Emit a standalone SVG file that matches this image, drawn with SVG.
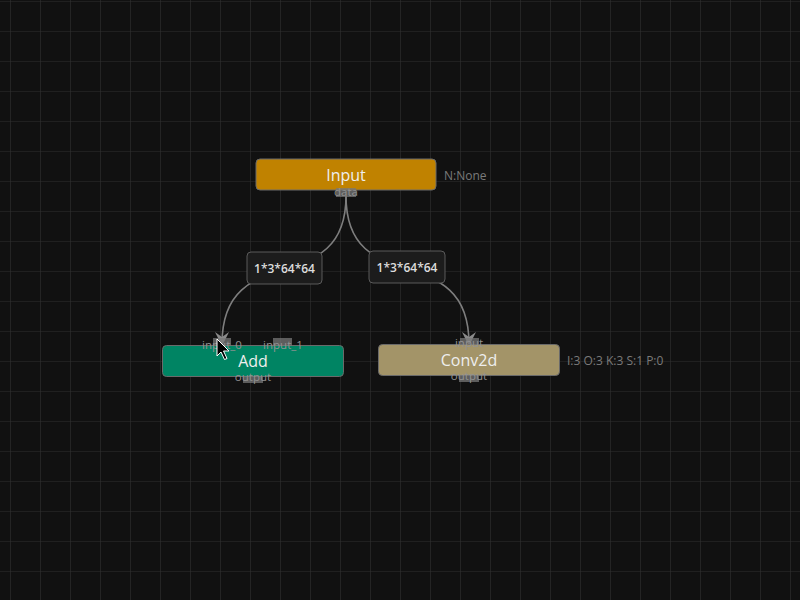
<svg xmlns="http://www.w3.org/2000/svg" width="800" height="600" viewBox="0 0 800 600">
<defs>
<pattern id="grid" x="10" y="1" width="30" height="30" patternUnits="userSpaceOnUse">
<path d="M0,0 H30 M0,0 V30" fill="none" stroke="#303030" stroke-width="1.2"/>
</pattern>
<marker id="arr" viewBox="0 0 14 14" refX="12" refY="7" markerWidth="14" markerHeight="14" markerUnits="userSpaceOnUse" orient="auto">
<path d="M0,0 L14,7 L0,14 L5,7 z" fill="#8a8a8a"/>
</marker>
<style>
.node{stroke:#6a6a6a;stroke-width:1}
.ntext{font-family:"Open Sans","Noto Sans",sans-serif;font-size:16px;fill:#eeeeee;text-anchor:middle}
.side{font-family:"Open Sans","Noto Sans",sans-serif;font-size:12px;fill:#7a7a7a}
.port{fill:#777;opacity:0.75}
.ptext{font-family:"Open Sans","Noto Sans",sans-serif;font-size:11.5px;fill:#929292;text-anchor:middle}
.edge{fill:none;stroke:#7e7e7e;stroke-width:1.6}
.lbox{fill:#1c1c1c;stroke:#5a5a5a;stroke-width:1}
.ltext{font-family:"Open Sans","Noto Sans",sans-serif;font-size:12px;font-weight:600;fill:#dddddd;text-anchor:middle}
</style>
</defs>
<rect width="800" height="600" fill="#111111"/>
<rect width="800" height="600" fill="url(#grid)"/>
<g id="connectors">
<path class="edge" d="M346,196 C346,302 222,236 222,344" marker-end="url(#arr)"/>
<path class="edge" d="M346,196 C346,302 469,236 469,344" marker-end="url(#arr)"/>
<rect class="lbox" x="247" y="252" width="75" height="32" rx="4"/>
<text class="ltext" x="284.5" y="272.5">1*3*64*64</text>
<rect class="lbox" x="369" y="251" width="76" height="32" rx="4"/>
<text class="ltext" x="407" y="271.5">1*3*64*64</text>
</g>
<g id="node-input">
<rect class="node" x="256" y="159" width="180" height="31" rx="4" fill="#c08200"/>
<text class="ntext" x="346" y="180.5">Input</text>
<text class="side" x="444" y="180">N:None</text>
<rect class="port" x="336" y="188" width="20" height="9"/>
<text class="ptext" x="346" y="195.5">data</text>
</g>
<g id="node-add">
<rect class="node" x="162.5" y="345.5" width="181" height="31" rx="4" fill="#008463"/>
<text class="ntext" x="253" y="367">Add</text>
<rect class="port" x="213" y="338" width="18" height="8"/>
<text class="ptext" x="222" y="349">input_0</text>
<rect class="port" x="273" y="338" width="19" height="8"/>
<text class="ptext" x="283" y="349">input_1</text>
<rect class="port" x="243" y="376" width="20" height="7"/>
<text class="ptext" x="253" y="381">output</text>
</g>
<g id="node-conv2d">
<rect class="node" x="378.5" y="344.5" width="181" height="31" rx="4" fill="#a39468"/>
<text class="ntext" x="469" y="366">Conv2d</text>
<text class="side" x="567" y="365">I:3 O:3 K:3 S:1 P:0</text>
<rect class="port" x="460" y="338" width="19" height="7"/>
<text class="ptext" x="469" y="347">input</text>
<rect class="port" x="459" y="375" width="20" height="7"/>
<text class="ptext" x="469" y="380">output</text>
</g>
<g id="cursor">
<path d="M217,339 L217,356 L221,352 L224.5,359.5 L227,358.5 L223.5,351 L229,351 z" fill="#000" stroke="#fff" stroke-width="1"/>
</g>
</svg>
